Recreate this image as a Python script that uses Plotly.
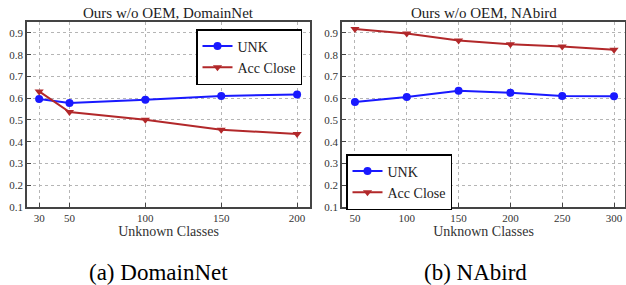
import plotly.graph_objects as go

# Data
dn_classes = [30, 50, 100, 150, 200]
dn_unk = [0.596, 0.578, 0.593, 0.610, 0.617]
dn_acc_close = [0.631, 0.536, 0.501, 0.455, 0.435]

nb_classes = [50, 100, 150, 200, 250, 300]
nb_unk = [0.582, 0.605, 0.634, 0.625, 0.610, 0.609]
nb_acc_close = [0.918, 0.897, 0.865, 0.848, 0.837, 0.822]

y_ticks = [0.1, 0.2, 0.3, 0.4, 0.5, 0.6, 0.7, 0.8, 0.9]
y_tick_labels = ["0.1", "0.2", "0.3", "0.4", "0.5", "0.6", "0.7", "0.8", "0.9"]

titles = ["Ours w/o OEM, DomainNet", "Ours w/o OEM, NAbird"]
captions = ["(a) DomainNet", "(b) NAbird"]
x_title = "Unknown Classes"

W, H = 626, 285
FONT = "Times New Roman, Liberation Serif, Tinos, serif"
BLUE = "rgb(25,25,255)"
RED = "rgb(178,40,42)"

fig = go.Figure()

def add_series(x, y, name, color, symbol, xa, ya, legend):
    fig.add_trace(go.Scatter(
        x=x, y=y, name=name, mode="lines+markers",
        line=dict(color=color, width=2),
        marker=dict(color=color, symbol=symbol, size=8),
        xaxis=xa, yaxis=ya, legend=legend,
    ))

add_series(dn_classes, dn_unk, "UNK", BLUE, "circle", "x", "y", "legend")
add_series(dn_classes, dn_acc_close, "Acc Close", RED, "triangle-down", "x", "y", "legend")
add_series(nb_classes, nb_unk, "UNK", BLUE, "circle", "x2", "y2", "legend2")
add_series(nb_classes, nb_acc_close, "Acc Close", RED, "triangle-down", "x2", "y2", "legend2")

def px_x(p):
    return p / W

def px_y(p):
    return 1 - p / H

ydom = [px_y(207), px_y(22)]

axis_common = dict(
    showline=True, linecolor="#444", linewidth=1.5, mirror=True,
    showgrid=True, gridcolor="#b5b5b5", gridwidth=1, griddash="dot",
    ticks="inside", ticklen=4, tickcolor="#444",
    tickfont=dict(family=FONT, size=11, color="#333"),
    zeroline=False, automargin=False,
)

fig.update_layout(
    width=W, height=H,
    margin=dict(l=0, r=0, t=0, b=0, autoexpand=False),
    paper_bgcolor="white", plot_bgcolor="white",
    font=dict(family=FONT, color="#222"),
    xaxis=dict(domain=[px_x(27), px_x(310)], range=[22, 208.5],
               tickvals=dn_classes, anchor="y",
               title=dict(text=x_title, font=dict(family=FONT, size=14, color="#333"), standoff=2),
               **axis_common),
    yaxis=dict(domain=ydom, range=[0.1, 0.95], tickvals=y_ticks, ticktext=y_tick_labels,
               anchor="x", **axis_common),
    xaxis2=dict(domain=[px_x(342), px_x(625)], range=[37.5, 310.6],
                tickvals=nb_classes, anchor="y2",
                title=dict(text=x_title, font=dict(family=FONT, size=14, color="#333"), standoff=2),
                **axis_common),
    yaxis2=dict(domain=ydom, range=[0.1, 0.95], tickvals=y_ticks, ticktext=y_tick_labels,
                anchor="x2", **axis_common),
    legend=dict(x=px_x(302), y=px_y(29), xanchor="right", yanchor="top",
                bordercolor="black", borderwidth=1.5, bgcolor="white",
                font=dict(family=FONT, size=14, color="#222"), itemwidth=30,
                tracegroupgap=0),
    legend2=dict(x=px_x(346), y=px_y(154), xanchor="left", yanchor="top",
                 bordercolor="black", borderwidth=1.5, bgcolor="white",
                 font=dict(family=FONT, size=14, color="#222"), itemwidth=30,
                 tracegroupgap=0),
    showlegend=True,
)

# Panel titles and captions
for cx, t in zip([168.5, 483.5], titles):
    fig.add_annotation(text=t, x=px_x(cx), y=px_y(13), xref="paper", yref="paper",
                       showarrow=False, xanchor="center", yanchor="middle",
                       font=dict(family=FONT, size=15, color="#222"))
for cx, c in zip([158, 475], captions):
    fig.add_annotation(text=c, x=px_x(cx), y=px_y(272), xref="paper", yref="paper",
                       showarrow=False, xanchor="center", yanchor="middle",
                       font=dict(family=FONT, size=23, color="black"))

fig.write_html("out.html", config={"displayModeBar": False},
               post_script="document.body.style.margin='0';")
